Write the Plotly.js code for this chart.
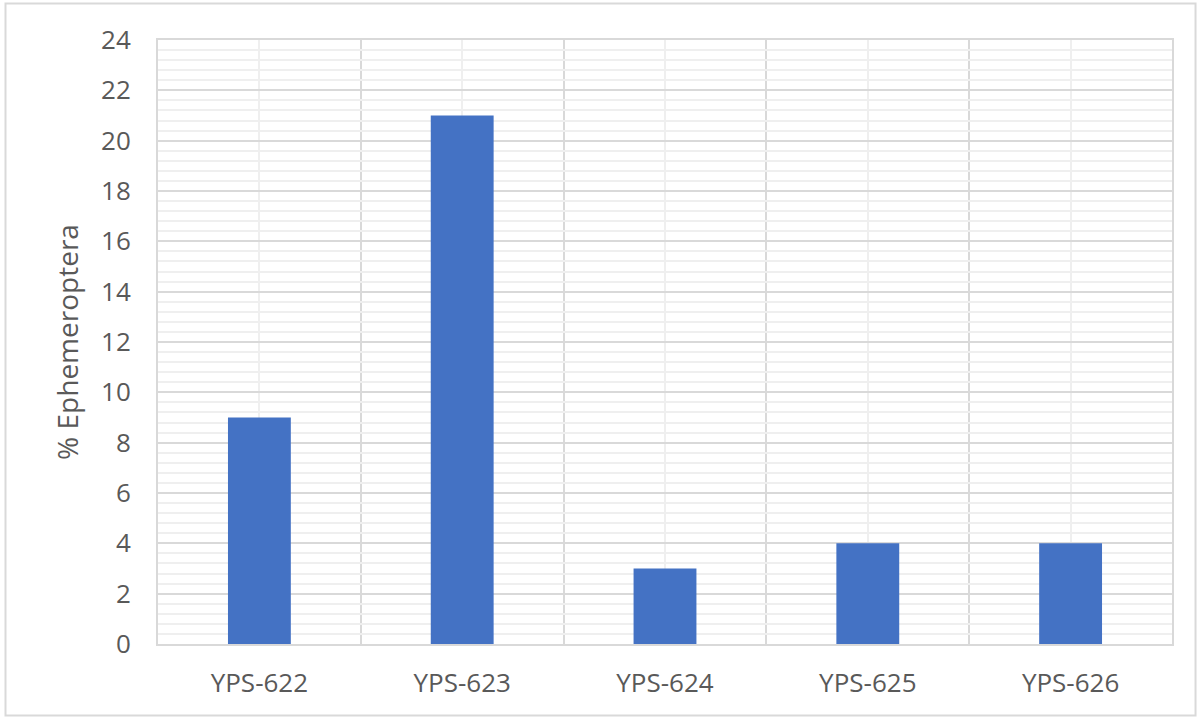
<!DOCTYPE html>
<html>
<head>
<meta charset="utf-8">
<script src="https://cdn.plot.ly/plotly-3.0.1.min.js"></script>
<style>
  html, body { margin: 0; padding: 0; background: #fff; }
  #chart { width: 1201px; height: 719px; }
</style>
</head>
<body>
<div id="chart"></div>
<script>
// Sample stations and their share of Ephemeroptera
const stations = ['YPS-622', 'YPS-623', 'YPS-624', 'YPS-625', 'YPS-626'];
const pctEphemeroptera = [9, 21, 3, 4, 4];

const positions = stations.map((_, i) => i);
const boundaries = stations.concat(['']).map((_, i) => i - 0.5);

const textColor = '#595959';
const font = 'Open Sans, Noto Sans, sans-serif';

const trace = {
  type: 'bar',
  x: positions,
  y: pctEphemeroptera,
  width: 0.31,
  marker: { color: '#4472C4', line: { width: 0 } },
  hoverinfo: 'x+y'
};

const layout = {
  width: 1201,
  height: 719,
  margin: { l: 158, r: 29, t: 40, b: 75 },
  paper_bgcolor: '#ffffff',
  plot_bgcolor: '#ffffff',
  showlegend: false,
  font: { family: font, color: textColor },
  xaxis: {
    range: [-0.5, 4.5],
    tickmode: 'array',
    tickvals: positions,
    ticktext: stations,
    tickfont: { size: 26, color: textColor },
    ticks: '',
    ticklabelstandoff: 15,
    showgrid: true,
    gridcolor: '#efefef',
    gridwidth: 2,
    zeroline: false,
    showline: true,
    linecolor: '#d9d9d9',
    linewidth: 2,
    mirror: true,
    minor: {
      tickmode: 'array',
      tickvals: boundaries,
      showgrid: true,
      gridcolor: '#d9d9d9',
      gridwidth: 2,
      ticks: ''
    },
    fixedrange: true
  },
  yaxis: {
    range: [0, 24],
    dtick: 2,
    tick0: 0,
    tickfont: { size: 26, color: textColor },
    ticks: '',
    ticklabelstandoff: 20,
    showgrid: true,
    gridcolor: '#d9d9d9',
    gridwidth: 2,
    zeroline: false,
    showline: true,
    linecolor: '#d9d9d9',
    linewidth: 2,
    mirror: true,
    minor: {
      dtick: 0.4,
      tick0: 0,
      showgrid: true,
      gridcolor: '#efefef',
      gridwidth: 2,
      ticks: ''
    },
    title: {
      text: '% Ephemeroptera',
      font: { size: 28, color: textColor },
      standoff: 14
    },
    fixedrange: true
  },
  shapes: [{
    type: 'rect',
    xref: 'paper', yref: 'paper',
    x0: -0.1504, x1: 1.0232,
    y0: -0.1184, y1: 1.0604,
    line: { color: '#d9d9d9', width: 2 },
    fillcolor: 'rgba(0,0,0,0)',
    layer: 'above'
  }]
};

Plotly.newPlot('chart', [trace], layout, { displayModeBar: false, staticPlot: true });
</script>
</body>
</html>
